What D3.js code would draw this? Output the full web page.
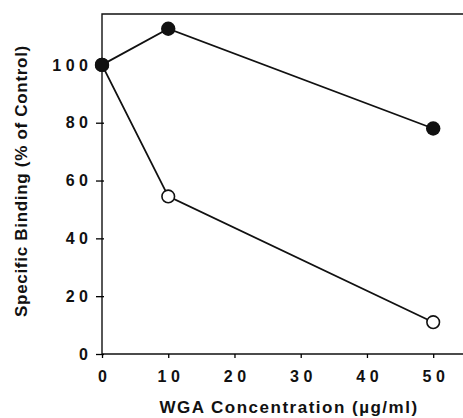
<!DOCTYPE html>
<html>
<head>
  <meta charset="utf-8">
  <title>WGA binding</title>
  <script src="https://d3js.org/d3.v7.min.js"></script>
</head>
<style>
  body { margin: 0; background: white; }
  text { font-family: "Liberation Sans", Arial, sans-serif; font-weight: bold; fill: #111; }
</style>
<body>
</body>
<script>

  // WGA concentration (ug/ml)
  var concentrations = [0, 10, 50];
  // specific binding, % of control
  var filledSeries = [100, 112.5, 78];
  var openSeries = [100, 54.5, 11];

  var xTicks = [0, 10, 20, 30, 40, 50];
  var yTicks = [0, 20, 40, 60, 80, 100];

  var width = 463, height = 418;
  var margin = {top: 14, right: 0, bottom: 64, left: 102};
  var digitSpacing = 4.5;

  var xScale = d3.scaleLinear()
    .domain([0, 54.5])
    .range([margin.left, width]);

  var yScale = d3.scaleLinear()
    .domain([0, 117.6])
    .range([height - margin.bottom, margin.top]);

  var svg = d3.select('body').append('svg')
    .attr('width', width)
    .attr('height', height);

  // frame (right side runs off the page)
  svg.append('path')
    .attr('d', 'M' + width + ',' + yScale(117.6) + 'H' + xScale(0) + 'V' + yScale(0) + 'H' + width)
    .attr('fill', 'none')
    .attr('stroke', '#111')
    .attr('stroke-width', 1.4);

  // x axis
  var xAxis = svg.append('g')
    .attr('transform', 'translate(0,' + yScale(0) + ')')
    .call(d3.axisBottom(xScale).tickValues(xTicks).tickSize(4).tickPadding(13));
  xAxis.select('.domain').remove();
  xAxis.selectAll('line').attr('stroke-width', 1.3);
  xAxis.selectAll('text')
    .style('font-size', '16px')
    .style('letter-spacing', digitSpacing + 'px')
    .attr('dx', (digitSpacing / 2) + 'px');

  // y axis
  var yAxis = svg.append('g')
    .attr('transform', 'translate(' + xScale(0) + ',0)')
    .call(d3.axisLeft(yScale).tickValues(yTicks).tickSize(6).tickPadding(8));
  yAxis.select('.domain').remove();
  yAxis.selectAll('line').attr('x2', 2).attr('x1', -6).attr('stroke-width', 1.3);
  yAxis.selectAll('text')
    .style('font-size', '16px')
    .style('letter-spacing', digitSpacing + 'px')
    .attr('dx', digitSpacing + 'px');

  // axis titles
  svg.append('text')
    .attr('x', 289)
    .attr('y', 413)
    .attr('text-anchor', 'middle')
    .style('font-size', '17px')
    .style('letter-spacing', '1.5px')
    .text('WGA  Concentration  (µg/ml)');

  svg.append('text')
    .attr('transform', 'translate(27,181) rotate(-90)')
    .attr('text-anchor', 'middle')
    .style('font-size', '17px')
    .style('letter-spacing', '0.7px')
    .text('Specific Binding (% of Control)');

  var line = d3.line()
    .x(function(d, i) { return xScale(concentrations[i]); })
    .y(function(d) { return yScale(d); });

  [openSeries, filledSeries].forEach(function(series) {
    svg.append('path')
      .datum(series)
      .attr('d', line)
      .attr('fill', 'none')
      .attr('stroke', '#111')
      .attr('stroke-width', 1.8);
  });

  svg.selectAll('.open')
    .data(openSeries)
    .enter()
      .append('circle')
      .attr('class', 'open')
      .attr('cx', function(d, i) { return xScale(concentrations[i]); })
      .attr('cy', function(d) { return yScale(d); })
      .attr('r', 6.3)
      .attr('fill', 'white')
      .attr('stroke', '#111')
      .attr('stroke-width', 1.6);

  svg.selectAll('.filled')
    .data(filledSeries)
    .enter()
      .append('circle')
      .attr('class', 'filled')
      .attr('cx', function(d, i) { return xScale(concentrations[i]); })
      .attr('cy', function(d) { return yScale(d); })
      .attr('r', 7.2)
      .attr('fill', '#111');

</script>
</html>
